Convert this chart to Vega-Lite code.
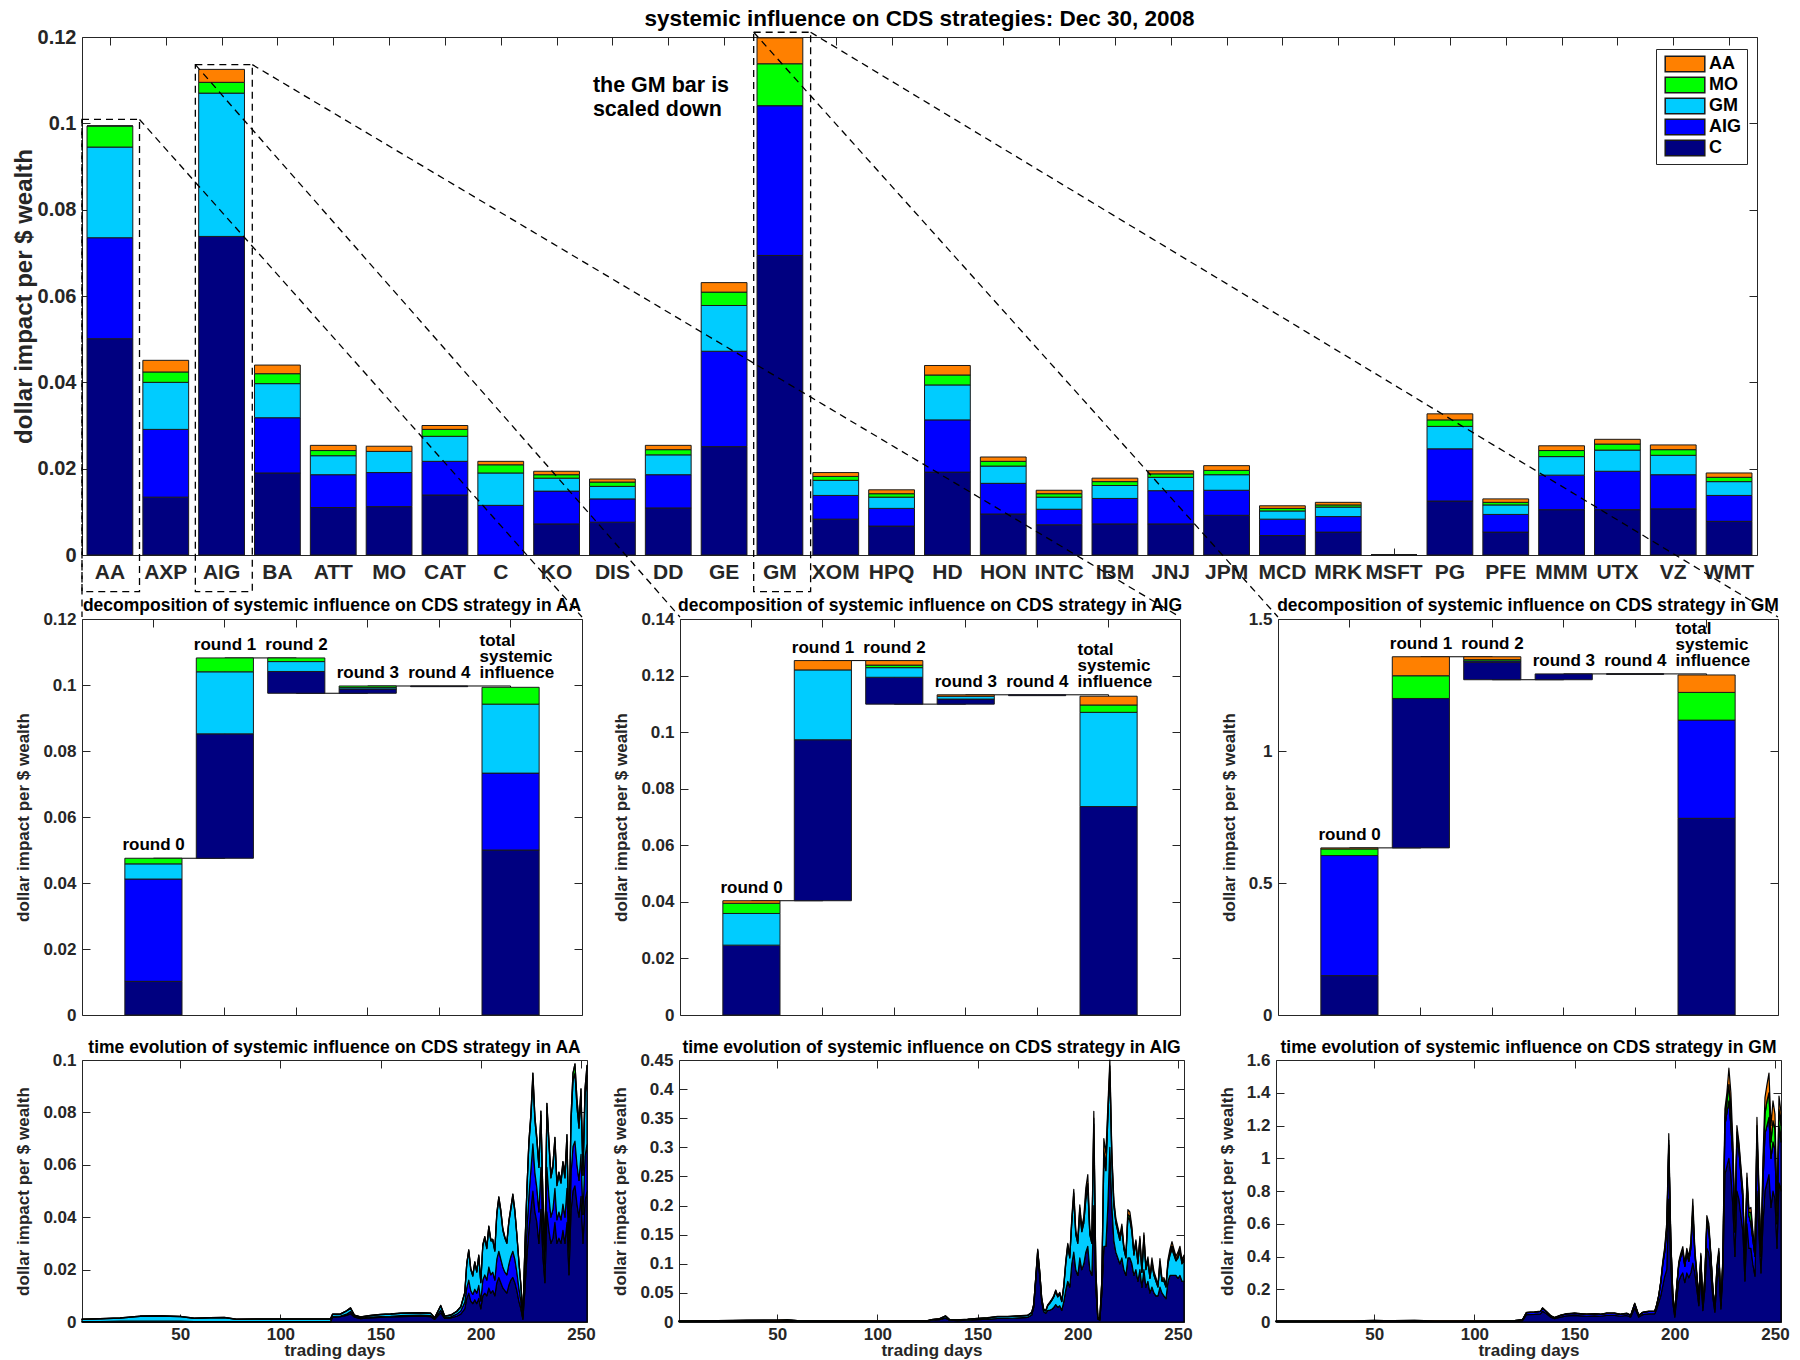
{
"$schema":"https://vega.github.io/schema/vega-lite/v6.json",
"background":"white",
"padding":{"left":11,"top":7,"right":5,"bottom":0},
"config":{
 "view":{"stroke":"#262626","strokeWidth":1},
 "font":"Liberation Sans",
 "axis":{"labelFont":"Liberation Sans","titleFont":"Liberation Sans","labelFontWeight":"bold","titleFontWeight":"bold","labelColor":"#262626","titleColor":"#262626","grid":false,"domain":false,"tickColor":"#262626","labelFontSize":17,"titleFontSize":17},
 "title":{"font":"Liberation Sans","fontWeight":"bold","color":"black","anchor":"middle"},
 "text":{"font":"Liberation Sans"}
},
"datasets":{
 "series":[{"s":"C","k":1},{"s":"AIG","k":2},{"s":"GM","k":3},{"s":"MO","k":4},{"s":"AA","k":5}],
 "bars":[
  {"t":"AA","C":0.0501,"AIG":0.0234,"GM":0.021,"MO":0.0049,"AA":0},
  {"t":"AXP","C":0.0134,"AIG":0.0157,"GM":0.0109,"MO":0.0024,"AA":0.0027},
  {"t":"AIG","C":0.0738,"AIG":0,"GM":0.0332,"MO":0.0025,"AA":0.003},
  {"t":"BA","C":0.019,"AIG":0.0128,"GM":0.0079,"MO":0.0023,"AA":0.002},
  {"t":"ATT","C":0.011,"AIG":0.0076,"GM":0.0044,"MO":0.0012,"AA":0.0012},
  {"t":"MO","C":0.0112,"AIG":0.0079,"GM":0.0049,"MO":0,"AA":0.0012},
  {"t":"CAT","C":0.0139,"AIG":0.0078,"GM":0.0058,"MO":0.0016,"AA":0.0009},
  {"t":"C","C":0,"AIG":0.0115,"GM":0.0075,"MO":0.0019,"AA":0.0008},
  {"t":"KO","C":0.0072,"AIG":0.0076,"GM":0.003,"MO":0.0008,"AA":0.0008},
  {"t":"DIS","C":0.0076,"AIG":0.0054,"GM":0.0029,"MO":0.001,"AA":0.0007},
  {"t":"DD","C":0.0109,"AIG":0.0077,"GM":0.0046,"MO":0.0012,"AA":0.001},
  {"t":"GE","C":0.0251,"AIG":0.0221,"GM":0.0106,"MO":0.0031,"AA":0.0022},
  {"t":"GM","C":0.0694,"AIG":0.0347,"GM":0,"MO":0.0097,"AA":0.006},
  {"t":"XOM","C":0.0083,"AIG":0.0055,"GM":0.0035,"MO":0.0009,"AA":0.0009},
  {"t":"HPQ","C":0.0067,"AIG":0.0041,"GM":0.0026,"MO":0.0008,"AA":0.0009},
  {"t":"HD","C":0.0192,"AIG":0.0121,"GM":0.0081,"MO":0.0023,"AA":0.0022},
  {"t":"HON","C":0.0095,"AIG":0.0071,"GM":0.004,"MO":0.0011,"AA":0.001},
  {"t":"INTC","C":0.007,"AIG":0.0036,"GM":0.0028,"MO":0.0008,"AA":0.0008},
  {"t":"IBM","C":0.0072,"AIG":0.0059,"GM":0.003,"MO":0.0009,"AA":0.0008},
  {"t":"JNJ","C":0.0072,"AIG":0.0077,"GM":0.0031,"MO":0.0008,"AA":0.0007},
  {"t":"JPM","C":0.0092,"AIG":0.0058,"GM":0.0036,"MO":0.001,"AA":0.0011},
  {"t":"MCD","C":0.0045,"AIG":0.0038,"GM":0.0019,"MO":0.0006,"AA":0.0006},
  {"t":"MRK","C":0.0053,"AIG":0.0036,"GM":0.0022,"MO":0.0005,"AA":0.0006},
  {"t":"MSFT","C":0,"AIG":0,"GM":0,"MO":0,"AA":0},
  {"t":"PG","C":0.0125,"AIG":0.0121,"GM":0.0052,"MO":0.0015,"AA":0.0014},
  {"t":"PFE","C":0.0053,"AIG":0.0041,"GM":0.0022,"MO":0.0006,"AA":0.0008},
  {"t":"MMM","C":0.0105,"AIG":0.008,"GM":0.0043,"MO":0.0014,"AA":0.0011},
  {"t":"UTX","C":0.0105,"AIG":0.0089,"GM":0.0049,"MO":0.0014,"AA":0.0011},
  {"t":"VZ","C":0.0107,"AIG":0.0079,"GM":0.0045,"MO":0.0013,"AA":0.0011},
  {"t":"WMT","C":0.0078,"AIG":0.006,"GM":0.0032,"MO":0.001,"AA":0.001}
 ],
 "zoomlines":[
  {"x1":0.5,"y1":0.1009,"x2":0.5,"y2":-0.01436},
  {"x1":1.53,"y1":0.1009,"x2":9.455,"y2":-0.01436},
  {"x1":2.53,"y1":0.1136,"x2":11.21,"y2":-0.01436},
  {"x1":3.55,"y1":0.1136,"x2":20.166,"y2":-0.01436},
  {"x1":12.53,"y1":0.1211,"x2":21.92,"y2":-0.01436},
  {"x1":13.55,"y1":0.1211,"x2":30.876,"y2":-0.01436}
 ],
 "boxes":[
  {"x1":0.5,"x2":1.53,"y1":-0.0085,"y2":0.1009},
  {"x1":2.53,"x2":3.55,"y1":-0.0085,"y2":0.1136},
  {"x1":12.53,"x2":13.55,"y1":-0.0085,"y2":0.1211}
 ],
 "notes":[
  {"x":9.65,"y":0.1087,"txt":"the GM bar is"},
  {"x":9.65,"y":0.1032,"txt":"scaled down"}
 ],
 "wf":[
  {"p":"AA","r":"round 0","s":"C","lo":0,"hi":0.0102},
  {"p":"AA","r":"round 0","s":"AIG","lo":0.0102,"hi":0.0412},
  {"p":"AA","r":"round 0","s":"GM","lo":0.0412,"hi":0.0458},
  {"p":"AA","r":"round 0","s":"MO","lo":0.0458,"hi":0.0475},
  {"p":"AA","r":"round 1","s":"C","lo":0.0475,"hi":0.0852},
  {"p":"AA","r":"round 1","s":"GM","lo":0.0852,"hi":0.104},
  {"p":"AA","r":"round 1","s":"MO","lo":0.104,"hi":0.1082},
  {"p":"AA","r":"round 2","s":"C","lo":0.0975,"hi":0.1041},
  {"p":"AA","r":"round 2","s":"GM","lo":0.1041,"hi":0.1071},
  {"p":"AA","r":"round 2","s":"MO","lo":0.1071,"hi":0.1082},
  {"p":"AA","r":"round 3","s":"C","lo":0.0975,"hi":0.0988},
  {"p":"AA","r":"round 3","s":"GM","lo":0.0988,"hi":0.0992},
  {"p":"AA","r":"round 3","s":"MO","lo":0.0992,"hi":0.0997},
  {"p":"AA","r":"round 4","s":"C","lo":0.0995,"hi":0.0997},
  {"p":"AA","r":"total","s":"C","lo":0,"hi":0.05},
  {"p":"AA","r":"total","s":"AIG","lo":0.05,"hi":0.0733},
  {"p":"AA","r":"total","s":"GM","lo":0.0733,"hi":0.0942},
  {"p":"AA","r":"total","s":"MO","lo":0.0942,"hi":0.0993},
  {"p":"AIG","r":"round 0","s":"C","lo":0,"hi":0.0247},
  {"p":"AIG","r":"round 0","s":"GM","lo":0.0247,"hi":0.0359},
  {"p":"AIG","r":"round 0","s":"MO","lo":0.0359,"hi":0.0395},
  {"p":"AIG","r":"round 0","s":"AA","lo":0.0395,"hi":0.0404},
  {"p":"AIG","r":"round 1","s":"C","lo":0.0404,"hi":0.0973},
  {"p":"AIG","r":"round 1","s":"GM","lo":0.0973,"hi":0.122},
  {"p":"AIG","r":"round 1","s":"AA","lo":0.122,"hi":0.1253},
  {"p":"AIG","r":"round 2","s":"C","lo":0.1099,"hi":0.1194},
  {"p":"AIG","r":"round 2","s":"GM","lo":0.1194,"hi":0.1228},
  {"p":"AIG","r":"round 2","s":"MO","lo":0.1228,"hi":0.1237},
  {"p":"AIG","r":"round 2","s":"AA","lo":0.1237,"hi":0.1253},
  {"p":"AIG","r":"round 3","s":"C","lo":0.1099,"hi":0.1117},
  {"p":"AIG","r":"round 3","s":"GM","lo":0.1117,"hi":0.1127},
  {"p":"AIG","r":"round 3","s":"AA","lo":0.1127,"hi":0.1132},
  {"p":"AIG","r":"round 4","s":"C","lo":0.1129,"hi":0.1132},
  {"p":"AIG","r":"total","s":"C","lo":0,"hi":0.0737},
  {"p":"AIG","r":"total","s":"GM","lo":0.0737,"hi":0.107},
  {"p":"AIG","r":"total","s":"MO","lo":0.107,"hi":0.1096},
  {"p":"AIG","r":"total","s":"AA","lo":0.1096,"hi":0.1127},
  {"p":"GM","r":"round 0","s":"C","lo":0,"hi":0.149},
  {"p":"GM","r":"round 0","s":"AIG","lo":0.149,"hi":0.604},
  {"p":"GM","r":"round 0","s":"MO","lo":0.604,"hi":0.629},
  {"p":"GM","r":"round 0","s":"AA","lo":0.629,"hi":0.633},
  {"p":"GM","r":"round 1","s":"C","lo":0.633,"hi":1.199},
  {"p":"GM","r":"round 1","s":"MO","lo":1.199,"hi":1.285},
  {"p":"GM","r":"round 1","s":"AA","lo":1.285,"hi":1.357},
  {"p":"GM","r":"round 2","s":"C","lo":1.27,"hi":1.336},
  {"p":"GM","r":"round 2","s":"AIG","lo":1.336,"hi":1.341},
  {"p":"GM","r":"round 2","s":"MO","lo":1.341,"hi":1.346},
  {"p":"GM","r":"round 2","s":"AA","lo":1.346,"hi":1.357},
  {"p":"GM","r":"round 3","s":"C","lo":1.27,"hi":1.292},
  {"p":"GM","r":"round 4","s":"C","lo":1.29,"hi":1.293},
  {"p":"GM","r":"total","s":"C","lo":0,"hi":0.745},
  {"p":"GM","r":"total","s":"AIG","lo":0.745,"hi":1.117},
  {"p":"GM","r":"total","s":"MO","lo":1.117,"hi":1.222},
  {"p":"GM","r":"total","s":"AA","lo":1.222,"hi":1.288}
 ],
 "conn":[
  {"p":"AA","r":"round 0","lvl":0.0475},{"p":"AA","r":"round 1","lvl":0.1082},{"p":"AA","r":"round 2","lvl":0.0975},{"p":"AA","r":"round 3","lvl":0.0997},{"p":"AA","r":"round 4","lvl":0.0997},{"p":"AA","r":"total","lvl":0.0993},
  {"p":"AIG","r":"round 0","lvl":0.0404},{"p":"AIG","r":"round 1","lvl":0.1253},{"p":"AIG","r":"round 2","lvl":0.1099},{"p":"AIG","r":"round 3","lvl":0.1132},{"p":"AIG","r":"round 4","lvl":0.1132},{"p":"AIG","r":"total","lvl":0.1127},
  {"p":"GM","r":"round 0","lvl":0.633},{"p":"GM","r":"round 1","lvl":1.357},{"p":"GM","r":"round 2","lvl":1.27},{"p":"GM","r":"round 3","lvl":1.292},{"p":"GM","r":"round 4","lvl":1.292},{"p":"GM","r":"total","lvl":1.288}
 ],
 "labs":[
  {"p":"AA","r":"round 0","lab":"round 0","top":0.0475},{"p":"AA","r":"round 1","lab":"round 1","top":0.1082},{"p":"AA","r":"round 2","lab":"round 2","top":0.1082},{"p":"AA","r":"round 3","lab":"round 3","top":0.0997},{"p":"AA","r":"round 4","lab":"round 4","top":0.0997},{"p":"AA","r":"total","lab":"total\nsystemic\ninfluence","top":0.0993},
  {"p":"AIG","r":"round 0","lab":"round 0","top":0.0404},{"p":"AIG","r":"round 1","lab":"round 1","top":0.1253},{"p":"AIG","r":"round 2","lab":"round 2","top":0.1253},{"p":"AIG","r":"round 3","lab":"round 3","top":0.1132},{"p":"AIG","r":"round 4","lab":"round 4","top":0.1132},{"p":"AIG","r":"total","lab":"total\nsystemic\ninfluence","top":0.1127},
  {"p":"GM","r":"round 0","lab":"round 0","top":0.633},{"p":"GM","r":"round 1","lab":"round 1","top":1.357},{"p":"GM","r":"round 2","lab":"round 2","top":1.357},{"p":"GM","r":"round 3","lab":"round 3","top":1.292},{"p":"GM","r":"round 4","lab":"round 4","top":1.292},{"p":"GM","r":"total","lab":"total\nsystemic\ninfluence","top":1.288}
 ],
 "tsAA":[
  {"d":1,"C":0,"AIG":0.0002,"GM":0.0008,"MO":0.0001,"AA":0},
  {"d":10,"C":0,"AIG":0.0002,"GM":0.001,"MO":0.0001,"AA":0},
  {"d":20,"C":0,"AIG":0.0003,"GM":0.0012,"MO":0.0001,"AA":0},
  {"d":30,"C":0,"AIG":0.0003,"GM":0.0018,"MO":0.0002,"AA":0},
  {"d":40,"C":0,"AIG":0.0003,"GM":0.0019,"MO":0.0002,"AA":0},
  {"d":50,"C":0,"AIG":0.0003,"GM":0.0017,"MO":0.0002,"AA":0},
  {"d":57,"C":0,"AIG":0.0002,"GM":0.0012,"MO":0.0001,"AA":0},
  {"d":65,"C":0,"AIG":0.0002,"GM":0.0014,"MO":0.0001,"AA":0},
  {"d":72,"C":0,"AIG":0.0002,"GM":0.0015,"MO":0.0001,"AA":0},
  {"d":78,"C":0,"AIG":0.0002,"GM":0.0008,"MO":0.0001,"AA":0},
  {"d":90,"C":0,"AIG":0.0002,"GM":0.0009,"MO":0.0001,"AA":0},
  {"d":110,"C":0,"AIG":0.0002,"GM":0.0009,"MO":0.0001,"AA":0},
  {"d":125,"C":0,"AIG":0.0002,"GM":0.0009,"MO":0.0001,"AA":0},
  {"d":126,"C":0.0018,"AIG":0.0003,"GM":0.0008,"MO":0.0001,"AA":0},
  {"d":130,"C":0.002,"AIG":0.0003,"GM":0.0007,"MO":0.0001,"AA":0},
  {"d":133,"C":0.0025,"AIG":0.0005,"GM":0.0012,"MO":0.0001,"AA":0},
  {"d":135,"C":0.0032,"AIG":0.0008,"GM":0.0012,"MO":0.0002,"AA":0},
  {"d":137,"C":0.0018,"AIG":0.0003,"GM":0.0004,"MO":0.0001,"AA":0},
  {"d":140,"C":0.0013,"AIG":0.0002,"GM":0.0004,"MO":0.0001,"AA":0},
  {"d":145,"C":0.0016,"AIG":0.0003,"GM":0.0005,"MO":0.0001,"AA":0},
  {"d":150,"C":0.0018,"AIG":0.0003,"GM":0.0007,"MO":0.0001,"AA":0},
  {"d":155,"C":0.0019,"AIG":0.0003,"GM":0.0008,"MO":0.0001,"AA":0},
  {"d":160,"C":0.002,"AIG":0.0004,"GM":0.0009,"MO":0.0001,"AA":0},
  {"d":165,"C":0.0021,"AIG":0.0004,"GM":0.0009,"MO":0.0001,"AA":0},
  {"d":170,"C":0.0022,"AIG":0.0004,"GM":0.0009,"MO":0.0001,"AA":0},
  {"d":175,"C":0.002,"AIG":0.0004,"GM":0.0009,"MO":0.0001,"AA":0},
  {"d":177,"C":0.001,"AIG":0.0002,"GM":0.0004,"MO":0.0001,"AA":0},
  {"d":180,"C":0.0035,"AIG":0.001,"GM":0.0016,"MO":0.0002,"AA":0},
  {"d":182,"C":0.0014,"AIG":0.0003,"GM":0.0005,"MO":0.0001,"AA":0},
  {"d":185,"C":0.0016,"AIG":0.0004,"GM":0.0006,"MO":0.0001,"AA":0},
  {"d":188,"C":0.0022,"AIG":0.0008,"GM":0.001,"MO":0.0001,"AA":0},
  {"d":190,"C":0.003,"AIG":0.0012,"GM":0.0015,"MO":0.0002,"AA":0},
  {"d":192,"C":0.005,"AIG":0.0025,"GM":0.0035,"MO":0.0003,"AA":0},
  {"d":193,"C":0.009,"AIG":0.004,"GM":0.009,"MO":0.0005,"AA":0},
  {"d":194,"C":0.011,"AIG":0.005,"GM":0.011,"MO":0.0005,"AA":0},
  {"d":195,"C":0.008,"AIG":0.004,"GM":0.008,"MO":0.0004,"AA":0},
  {"d":196,"C":0.007,"AIG":0.0035,"GM":0.007,"MO":0.0004,"AA":0},
  {"d":197,"C":0.0085,"AIG":0.004,"GM":0.01,"MO":0.0005,"AA":0},
  {"d":198,"C":0.007,"AIG":0.004,"GM":0.008,"MO":0.0004,"AA":0},
  {"d":199,"C":0.009,"AIG":0.005,"GM":0.011,"MO":0.0005,"AA":0},
  {"d":200,"C":0.005,"AIG":0.003,"GM":0.007,"MO":0.0004,"AA":0},
  {"d":201,"C":0.01,"AIG":0.006,"GM":0.013,"MO":0.0005,"AA":0},
  {"d":202,"C":0.011,"AIG":0.007,"GM":0.014,"MO":0.0006,"AA":0},
  {"d":203,"C":0.01,"AIG":0.006,"GM":0.012,"MO":0.0005,"AA":0},
  {"d":204,"C":0.013,"AIG":0.008,"GM":0.015,"MO":0.0006,"AA":0},
  {"d":205,"C":0.011,"AIG":0.007,"GM":0.013,"MO":0.0005,"AA":0},
  {"d":206,"C":0.012,"AIG":0.007,"GM":0.012,"MO":0.0005,"AA":0},
  {"d":207,"C":0.01,"AIG":0.006,"GM":0.011,"MO":0.0005,"AA":0},
  {"d":208,"C":0.015,"AIG":0.009,"GM":0.017,"MO":0.0007,"AA":0},
  {"d":209,"C":0.017,"AIG":0.01,"GM":0.02,"MO":0.0008,"AA":0},
  {"d":210,"C":0.015,"AIG":0.009,"GM":0.018,"MO":0.0007,"AA":0},
  {"d":211,"C":0.013,"AIG":0.008,"GM":0.014,"MO":0.0006,"AA":0},
  {"d":212,"C":0.012,"AIG":0.007,"GM":0.013,"MO":0.0005,"AA":0},
  {"d":213,"C":0.011,"AIG":0.007,"GM":0.012,"MO":0.0005,"AA":0},
  {"d":214,"C":0.014,"AIG":0.008,"GM":0.016,"MO":0.0006,"AA":0},
  {"d":215,"C":0.016,"AIG":0.009,"GM":0.018,"MO":0.0007,"AA":0},
  {"d":216,"C":0.017,"AIG":0.01,"GM":0.021,"MO":0.0008,"AA":0},
  {"d":217,"C":0.015,"AIG":0.009,"GM":0.018,"MO":0.0007,"AA":0},
  {"d":218,"C":0.012,"AIG":0.007,"GM":0.014,"MO":0.0005,"AA":0},
  {"d":219,"C":0.008,"AIG":0.005,"GM":0.01,"MO":0.0004,"AA":0},
  {"d":220,"C":0.005,"AIG":0.003,"GM":0.006,"MO":0.0003,"AA":0},
  {"d":221,"C":0.001,"AIG":0.0005,"GM":0.0008,"MO":0.0001,"AA":0},
  {"d":222,"C":0.012,"AIG":0.006,"GM":0.01,"MO":0.0005,"AA":0},
  {"d":223,"C":0.025,"AIG":0.01,"GM":0.015,"MO":0.0008,"AA":0},
  {"d":224,"C":0.035,"AIG":0.013,"GM":0.02,"MO":0.001,"AA":0},
  {"d":225,"C":0.043,"AIG":0.015,"GM":0.02,"MO":0.0015,"AA":0},
  {"d":226,"C":0.05,"AIG":0.018,"GM":0.025,"MO":0.002,"AA":0},
  {"d":227,"C":0.042,"AIG":0.015,"GM":0.02,"MO":0.0015,"AA":0},
  {"d":228,"C":0.038,"AIG":0.013,"GM":0.018,"MO":0.0012,"AA":0},
  {"d":229,"C":0.03,"AIG":0.012,"GM":0.017,"MO":0.001,"AA":0},
  {"d":230,"C":0.043,"AIG":0.016,"GM":0.02,"MO":0.0015,"AA":0},
  {"d":231,"C":0.025,"AIG":0.01,"GM":0.012,"MO":0.0008,"AA":0},
  {"d":232,"C":0.015,"AIG":0.005,"GM":0.007,"MO":0.0005,"AA":0},
  {"d":233,"C":0.042,"AIG":0.017,"GM":0.023,"MO":0.0015,"AA":0},
  {"d":234,"C":0.035,"AIG":0.013,"GM":0.02,"MO":0.0012,"AA":0},
  {"d":235,"C":0.03,"AIG":0.01,"GM":0.015,"MO":0.001,"AA":0},
  {"d":236,"C":0.032,"AIG":0.011,"GM":0.016,"MO":0.0012,"AA":0},
  {"d":237,"C":0.038,"AIG":0.013,"GM":0.018,"MO":0.0015,"AA":0},
  {"d":238,"C":0.03,"AIG":0.009,"GM":0.013,"MO":0.001,"AA":0},
  {"d":239,"C":0.032,"AIG":0.01,"GM":0.014,"MO":0.0012,"AA":0},
  {"d":240,"C":0.03,"AIG":0.009,"GM":0.014,"MO":0.001,"AA":0},
  {"d":241,"C":0.035,"AIG":0.01,"GM":0.015,"MO":0.0012,"AA":0},
  {"d":242,"C":0.03,"AIG":0.01,"GM":0.015,"MO":0.002,"AA":0},
  {"d":243,"C":0.038,"AIG":0.013,"GM":0.018,"MO":0.0025,"AA":0},
  {"d":244,"C":0.018,"AIG":0.006,"GM":0.008,"MO":0.001,"AA":0},
  {"d":245,"C":0.042,"AIG":0.014,"GM":0.02,"MO":0.002,"AA":0},
  {"d":246,"C":0.05,"AIG":0.017,"GM":0.025,"MO":0.003,"AA":0},
  {"d":247,"C":0.052,"AIG":0.017,"GM":0.026,"MO":0.0035,"AA":0},
  {"d":248,"C":0.045,"AIG":0.015,"GM":0.022,"MO":0.003,"AA":0},
  {"d":249,"C":0.04,"AIG":0.014,"GM":0.02,"MO":0.0025,"AA":0},
  {"d":250,"C":0.048,"AIG":0.016,"GM":0.022,"MO":0.003,"AA":0},
  {"d":251,"C":0.03,"AIG":0.011,"GM":0.015,"MO":0.002,"AA":0},
  {"d":252,"C":0.046,"AIG":0.017,"GM":0.023,"MO":0.003,"AA":0},
  {"d":253,"C":0.05,"AIG":0.018,"GM":0.026,"MO":0.004,"AA":0}
 ],
 "tsAIG":[
  {"d":1,"C":0.001,"AIG":0,"GM":0.0005,"MO":0.0002,"AA":0.0001},
  {"d":20,"C":0.0015,"AIG":0,"GM":0.0006,"MO":0.0002,"AA":0.0001},
  {"d":35,"C":0.002,"AIG":0,"GM":0.0008,"MO":0.0002,"AA":0.0001},
  {"d":50,"C":0.002,"AIG":0,"GM":0.001,"MO":0.0002,"AA":0.0001},
  {"d":55,"C":0.002,"AIG":0,"GM":0.0015,"MO":0.0002,"AA":0.0001},
  {"d":60,"C":0.0015,"AIG":0,"GM":0.0008,"MO":0.0002,"AA":0.0001},
  {"d":75,"C":0.0012,"AIG":0,"GM":0.0005,"MO":0.0001,"AA":0.0001},
  {"d":100,"C":0.0012,"AIG":0,"GM":0.0006,"MO":0.0001,"AA":0.0001},
  {"d":120,"C":0.0015,"AIG":0,"GM":0.0006,"MO":0.0001,"AA":0.0001},
  {"d":125,"C":0.0016,"AIG":0,"GM":0.0006,"MO":0.0001,"AA":0.0001},
  {"d":127,"C":0.003,"AIG":0,"GM":0.001,"MO":0.0002,"AA":0.0001},
  {"d":131,"C":0.004,"AIG":0,"GM":0.0015,"MO":0.0002,"AA":0.0001},
  {"d":134,"C":0.007,"AIG":0,"GM":0.003,"MO":0.0005,"AA":0.0002},
  {"d":136,"C":0.003,"AIG":0,"GM":0.001,"MO":0.0002,"AA":0.0001},
  {"d":140,"C":0.0025,"AIG":0,"GM":0.001,"MO":0.0002,"AA":0.0001},
  {"d":145,"C":0.003,"AIG":0,"GM":0.0015,"MO":0.0002,"AA":0.0001},
  {"d":150,"C":0.004,"AIG":0,"GM":0.002,"MO":0.0003,"AA":0.0001},
  {"d":155,"C":0.005,"AIG":0,"GM":0.002,"MO":0.0003,"AA":0.0001},
  {"d":160,"C":0.006,"AIG":0,"GM":0.003,"MO":0.0004,"AA":0.0002},
  {"d":165,"C":0.006,"AIG":0,"GM":0.003,"MO":0.0004,"AA":0.0002},
  {"d":170,"C":0.007,"AIG":0,"GM":0.003,"MO":0.0005,"AA":0.0002},
  {"d":175,"C":0.008,"AIG":0,"GM":0.003,"MO":0.0005,"AA":0.0002},
  {"d":177,"C":0.012,"AIG":0,"GM":0.004,"MO":0.0005,"AA":0.0002},
  {"d":178,"C":0.025,"AIG":0,"GM":0.004,"MO":0.001,"AA":0.0005},
  {"d":179,"C":0.07,"AIG":0,"GM":0.005,"MO":0.001,"AA":0.0005},
  {"d":180,"C":0.115,"AIG":0,"GM":0.007,"MO":0.002,"AA":0.001},
  {"d":181,"C":0.08,"AIG":0,"GM":0.006,"MO":0.001,"AA":0.001},
  {"d":182,"C":0.035,"AIG":0,"GM":0.005,"MO":0.001,"AA":0.0005},
  {"d":183,"C":0.018,"AIG":0,"GM":0.003,"MO":0.0005,"AA":0.0005},
  {"d":184,"C":0.015,"AIG":0,"GM":0.004,"MO":0.0005,"AA":0.0005},
  {"d":185,"C":0.02,"AIG":0,"GM":0.008,"MO":0.001,"AA":0.0005},
  {"d":186,"C":0.02,"AIG":0,"GM":0.012,"MO":0.001,"AA":0.001},
  {"d":187,"C":0.022,"AIG":0,"GM":0.015,"MO":0.001,"AA":0.001},
  {"d":188,"C":0.025,"AIG":0,"GM":0.018,"MO":0.001,"AA":0.001},
  {"d":189,"C":0.03,"AIG":0,"GM":0.022,"MO":0.002,"AA":0.001},
  {"d":190,"C":0.025,"AIG":0,"GM":0.018,"MO":0.001,"AA":0.001},
  {"d":191,"C":0.028,"AIG":0,"GM":0.02,"MO":0.002,"AA":0.001},
  {"d":192,"C":0.02,"AIG":0,"GM":0.015,"MO":0.001,"AA":0.001},
  {"d":193,"C":0.035,"AIG":0,"GM":0.025,"MO":0.002,"AA":0.001},
  {"d":194,"C":0.055,"AIG":0,"GM":0.045,"MO":0.003,"AA":0.002},
  {"d":195,"C":0.07,"AIG":0,"GM":0.06,"MO":0.003,"AA":0.002},
  {"d":196,"C":0.06,"AIG":0,"GM":0.05,"MO":0.003,"AA":0.002},
  {"d":197,"C":0.1,"AIG":0,"GM":0.07,"MO":0.005,"AA":0.004},
  {"d":198,"C":0.12,"AIG":0,"GM":0.095,"MO":0.007,"AA":0.006},
  {"d":199,"C":0.09,"AIG":0,"GM":0.06,"MO":0.004,"AA":0.003},
  {"d":200,"C":0.08,"AIG":0,"GM":0.055,"MO":0.004,"AA":0.003},
  {"d":201,"C":0.11,"AIG":0,"GM":0.08,"MO":0.006,"AA":0.005},
  {"d":202,"C":0.09,"AIG":0,"GM":0.065,"MO":0.005,"AA":0.004},
  {"d":203,"C":0.1,"AIG":0,"GM":0.07,"MO":0.006,"AA":0.005},
  {"d":204,"C":0.12,"AIG":0,"GM":0.09,"MO":0.008,"AA":0.012},
  {"d":205,"C":0.13,"AIG":0,"GM":0.1,"MO":0.008,"AA":0.015},
  {"d":206,"C":0.09,"AIG":0,"GM":0.06,"MO":0.005,"AA":0.005},
  {"d":207,"C":0.08,"AIG":0,"GM":0.055,"MO":0.004,"AA":0.004},
  {"d":208,"C":0.2,"AIG":0,"GM":0.14,"MO":0.01,"AA":0.012},
  {"d":209,"C":0.06,"AIG":0,"GM":0.03,"MO":0.003,"AA":0.002},
  {"d":210,"C":0.005,"AIG":0,"GM":0.002,"MO":0.0005,"AA":0.0005},
  {"d":211,"C":0.003,"AIG":0,"GM":0.002,"MO":0.0005,"AA":0.0005},
  {"d":212,"C":0.05,"AIG":0,"GM":0.02,"MO":0.002,"AA":0.002},
  {"d":213,"C":0.13,"AIG":0,"GM":0.15,"MO":0.015,"AA":0.02},
  {"d":214,"C":0.13,"AIG":0,"GM":0.13,"MO":0.01,"AA":0.02},
  {"d":215,"C":0.2,"AIG":0,"GM":0.15,"MO":0.01,"AA":0.01},
  {"d":216,"C":0.3,"AIG":0,"GM":0.13,"MO":0.01,"AA":0.01},
  {"d":217,"C":0.2,"AIG":0,"GM":0.08,"MO":0.006,"AA":0.006},
  {"d":218,"C":0.14,"AIG":0,"GM":0.06,"MO":0.005,"AA":0.005},
  {"d":219,"C":0.12,"AIG":0,"GM":0.05,"MO":0.004,"AA":0.004},
  {"d":220,"C":0.11,"AIG":0,"GM":0.045,"MO":0.004,"AA":0.004},
  {"d":221,"C":0.1,"AIG":0,"GM":0.04,"MO":0.004,"AA":0.004},
  {"d":222,"C":0.11,"AIG":0,"GM":0.05,"MO":0.004,"AA":0.004},
  {"d":223,"C":0.09,"AIG":0,"GM":0.035,"MO":0.003,"AA":0.003},
  {"d":224,"C":0.08,"AIG":0,"GM":0.03,"MO":0.003,"AA":0.003},
  {"d":225,"C":0.11,"AIG":0,"GM":0.07,"MO":0.005,"AA":0.008},
  {"d":226,"C":0.11,"AIG":0,"GM":0.065,"MO":0.006,"AA":0.008},
  {"d":227,"C":0.1,"AIG":0,"GM":0.055,"MO":0.004,"AA":0.005},
  {"d":228,"C":0.08,"AIG":0,"GM":0.035,"MO":0.003,"AA":0.003},
  {"d":229,"C":0.09,"AIG":0,"GM":0.045,"MO":0.003,"AA":0.003},
  {"d":230,"C":0.07,"AIG":0,"GM":0.03,"MO":0.003,"AA":0.003},
  {"d":231,"C":0.09,"AIG":0,"GM":0.05,"MO":0.003,"AA":0.004},
  {"d":232,"C":0.06,"AIG":0,"GM":0.025,"MO":0.002,"AA":0.003},
  {"d":233,"C":0.09,"AIG":0,"GM":0.055,"MO":0.004,"AA":0.004},
  {"d":234,"C":0.06,"AIG":0,"GM":0.03,"MO":0.003,"AA":0.003},
  {"d":235,"C":0.07,"AIG":0,"GM":0.035,"MO":0.003,"AA":0.004},
  {"d":236,"C":0.05,"AIG":0,"GM":0.025,"MO":0.002,"AA":0.003},
  {"d":237,"C":0.06,"AIG":0,"GM":0.04,"MO":0.004,"AA":0.006},
  {"d":238,"C":0.05,"AIG":0,"GM":0.03,"MO":0.003,"AA":0.004},
  {"d":239,"C":0.045,"AIG":0,"GM":0.025,"MO":0.003,"AA":0.003},
  {"d":240,"C":0.045,"AIG":0,"GM":0.015,"MO":0.002,"AA":0.002},
  {"d":241,"C":0.06,"AIG":0,"GM":0.04,"MO":0.004,"AA":0.005},
  {"d":242,"C":0.05,"AIG":0,"GM":0.02,"MO":0.002,"AA":0.003},
  {"d":243,"C":0.045,"AIG":0,"GM":0.025,"MO":0.003,"AA":0.003},
  {"d":244,"C":0.04,"AIG":0,"GM":0.02,"MO":0.002,"AA":0.002},
  {"d":245,"C":0.07,"AIG":0,"GM":0.03,"MO":0.003,"AA":0.004},
  {"d":246,"C":0.08,"AIG":0,"GM":0.035,"MO":0.004,"AA":0.006},
  {"d":247,"C":0.08,"AIG":0,"GM":0.045,"MO":0.005,"AA":0.008},
  {"d":248,"C":0.08,"AIG":0,"GM":0.035,"MO":0.004,"AA":0.006},
  {"d":249,"C":0.08,"AIG":0,"GM":0.025,"MO":0.003,"AA":0.005},
  {"d":250,"C":0.075,"AIG":0,"GM":0.035,"MO":0.004,"AA":0.006},
  {"d":251,"C":0.08,"AIG":0,"GM":0.04,"MO":0.004,"AA":0.006},
  {"d":252,"C":0.07,"AIG":0,"GM":0.03,"MO":0.003,"AA":0.004},
  {"d":253,"C":0.07,"AIG":0,"GM":0.035,"MO":0.004,"AA":0.006}
 ],
 "tsGM":[
  {"d":1,"C":0.003,"AIG":0.002,"GM":0,"MO":0.0005,"AA":0.0005},
  {"d":20,"C":0.003,"AIG":0.002,"GM":0,"MO":0.0005,"AA":0.0005},
  {"d":40,"C":0.004,"AIG":0.002,"GM":0,"MO":0.0005,"AA":0.0005},
  {"d":50,"C":0.006,"AIG":0.003,"GM":0,"MO":0.0005,"AA":0.0005},
  {"d":55,"C":0.005,"AIG":0.003,"GM":0,"MO":0.0005,"AA":0.0005},
  {"d":60,"C":0.005,"AIG":0.003,"GM":0,"MO":0.0005,"AA":0.0005},
  {"d":70,"C":0.006,"AIG":0.003,"GM":0,"MO":0.0005,"AA":0.0005},
  {"d":80,"C":0.004,"AIG":0.002,"GM":0,"MO":0.0005,"AA":0.0005},
  {"d":100,"C":0.004,"AIG":0.002,"GM":0,"MO":0.0005,"AA":0.0005},
  {"d":120,"C":0.005,"AIG":0.003,"GM":0,"MO":0.0005,"AA":0.0005},
  {"d":124,"C":0.008,"AIG":0.005,"GM":0,"MO":0.0005,"AA":0.0005},
  {"d":126,"C":0.045,"AIG":0.012,"GM":0,"MO":0.001,"AA":0.001},
  {"d":130,"C":0.047,"AIG":0.013,"GM":0,"MO":0.001,"AA":0.001},
  {"d":133,"C":0.05,"AIG":0.014,"GM":0,"MO":0.001,"AA":0.001},
  {"d":134,"C":0.065,"AIG":0.018,"GM":0,"MO":0.002,"AA":0.002},
  {"d":136,"C":0.05,"AIG":0.012,"GM":0,"MO":0.001,"AA":0.001},
  {"d":138,"C":0.03,"AIG":0.008,"GM":0,"MO":0.001,"AA":0.001},
  {"d":140,"C":0.02,"AIG":0.006,"GM":0,"MO":0.001,"AA":0.001},
  {"d":143,"C":0.03,"AIG":0.01,"GM":0,"MO":0.001,"AA":0.001},
  {"d":146,"C":0.037,"AIG":0.012,"GM":0,"MO":0.001,"AA":0.001},
  {"d":150,"C":0.04,"AIG":0.013,"GM":0,"MO":0.001,"AA":0.001},
  {"d":153,"C":0.038,"AIG":0.012,"GM":0,"MO":0.001,"AA":0.001},
  {"d":156,"C":0.035,"AIG":0.012,"GM":0,"MO":0.001,"AA":0.001},
  {"d":160,"C":0.038,"AIG":0.012,"GM":0,"MO":0.001,"AA":0.001},
  {"d":163,"C":0.035,"AIG":0.011,"GM":0,"MO":0.001,"AA":0.001},
  {"d":166,"C":0.04,"AIG":0.013,"GM":0,"MO":0.001,"AA":0.001},
  {"d":170,"C":0.04,"AIG":0.013,"GM":0,"MO":0.001,"AA":0.001},
  {"d":173,"C":0.035,"AIG":0.011,"GM":0,"MO":0.001,"AA":0.001},
  {"d":176,"C":0.04,"AIG":0.012,"GM":0,"MO":0.001,"AA":0.001},
  {"d":178,"C":0.03,"AIG":0.01,"GM":0,"MO":0.001,"AA":0.001},
  {"d":180,"C":0.085,"AIG":0.025,"GM":0,"MO":0.003,"AA":0.002},
  {"d":182,"C":0.03,"AIG":0.01,"GM":0,"MO":0.001,"AA":0.001},
  {"d":184,"C":0.045,"AIG":0.013,"GM":0,"MO":0.001,"AA":0.001},
  {"d":187,"C":0.05,"AIG":0.014,"GM":0,"MO":0.001,"AA":0.001},
  {"d":190,"C":0.05,"AIG":0.015,"GM":0,"MO":0.001,"AA":0.001},
  {"d":191,"C":0.08,"AIG":0.025,"GM":0,"MO":0.002,"AA":0.002},
  {"d":192,"C":0.12,"AIG":0.04,"GM":0,"MO":0.003,"AA":0.002},
  {"d":193,"C":0.16,"AIG":0.08,"GM":0,"MO":0.005,"AA":0.005},
  {"d":194,"C":0.22,"AIG":0.13,"GM":0,"MO":0.01,"AA":0.01},
  {"d":195,"C":0.28,"AIG":0.15,"GM":0,"MO":0.015,"AA":0.015},
  {"d":196,"C":0.32,"AIG":0.25,"GM":0,"MO":0.02,"AA":0.02},
  {"d":197,"C":0.75,"AIG":0.33,"GM":0,"MO":0.03,"AA":0.04},
  {"d":198,"C":0.35,"AIG":0.15,"GM":0,"MO":0.01,"AA":0.01},
  {"d":199,"C":0.12,"AIG":0.05,"GM":0,"MO":0.005,"AA":0.005},
  {"d":200,"C":0.03,"AIG":0.015,"GM":0,"MO":0.002,"AA":0.003},
  {"d":201,"C":0.15,"AIG":0.07,"GM":0,"MO":0.005,"AA":0.005},
  {"d":202,"C":0.25,"AIG":0.1,"GM":0,"MO":0.008,"AA":0.012},
  {"d":203,"C":0.28,"AIG":0.12,"GM":0,"MO":0.01,"AA":0.01},
  {"d":204,"C":0.3,"AIG":0.13,"GM":0,"MO":0.01,"AA":0.02},
  {"d":205,"C":0.24,"AIG":0.1,"GM":0,"MO":0.008,"AA":0.012},
  {"d":206,"C":0.3,"AIG":0.12,"GM":0,"MO":0.01,"AA":0.02},
  {"d":207,"C":0.27,"AIG":0.1,"GM":0,"MO":0.01,"AA":0.02},
  {"d":208,"C":0.3,"AIG":0.15,"GM":0,"MO":0.02,"AA":0.02},
  {"d":209,"C":0.36,"AIG":0.32,"GM":0,"MO":0.03,"AA":0.04},
  {"d":210,"C":0.3,"AIG":0.12,"GM":0,"MO":0.01,"AA":0.02},
  {"d":211,"C":0.2,"AIG":0.08,"GM":0,"MO":0.01,"AA":0.01},
  {"d":212,"C":0.1,"AIG":0.04,"GM":0,"MO":0.005,"AA":0.005},
  {"d":213,"C":0.3,"AIG":0.1,"GM":0,"MO":0.01,"AA":0.01},
  {"d":214,"C":0.07,"AIG":0.02,"GM":0,"MO":0.003,"AA":0.003},
  {"d":215,"C":0.2,"AIG":0.07,"GM":0,"MO":0.008,"AA":0.01},
  {"d":216,"C":0.45,"AIG":0.15,"GM":0,"MO":0.02,"AA":0.03},
  {"d":217,"C":0.42,"AIG":0.14,"GM":0,"MO":0.02,"AA":0.02},
  {"d":218,"C":0.3,"AIG":0.1,"GM":0,"MO":0.01,"AA":0.01},
  {"d":219,"C":0.15,"AIG":0.05,"GM":0,"MO":0.005,"AA":0.005},
  {"d":220,"C":0.06,"AIG":0.02,"GM":0,"MO":0.002,"AA":0.003},
  {"d":221,"C":0.25,"AIG":0.07,"GM":0,"MO":0.01,"AA":0.01},
  {"d":222,"C":0.33,"AIG":0.09,"GM":0,"MO":0.01,"AA":0.02},
  {"d":223,"C":0.08,"AIG":0.02,"GM":0,"MO":0.003,"AA":0.003},
  {"d":224,"C":0.3,"AIG":0.07,"GM":0,"MO":0.01,"AA":0.02},
  {"d":225,"C":0.9,"AIG":0.3,"GM":0,"MO":0.05,"AA":0.05},
  {"d":226,"C":0.95,"AIG":0.33,"GM":0,"MO":0.06,"AA":0.06},
  {"d":227,"C":1,"AIG":0.35,"GM":0,"MO":0.1,"AA":0.1},
  {"d":228,"C":0.9,"AIG":0.3,"GM":0,"MO":0.08,"AA":0.12},
  {"d":229,"C":0.7,"AIG":0.3,"GM":0,"MO":0.05,"AA":0.05},
  {"d":230,"C":0.4,"AIG":0.15,"GM":0,"MO":0.02,"AA":0.03},
  {"d":231,"C":0.8,"AIG":0.32,"GM":0,"MO":0.04,"AA":0.04},
  {"d":232,"C":0.75,"AIG":0.3,"GM":0,"MO":0.03,"AA":0.02},
  {"d":233,"C":0.65,"AIG":0.25,"GM":0,"MO":0.03,"AA":0.02},
  {"d":234,"C":0.55,"AIG":0.2,"GM":0,"MO":0.03,"AA":0.02},
  {"d":235,"C":0.25,"AIG":0.1,"GM":0,"MO":0.01,"AA":0.01},
  {"d":236,"C":0.6,"AIG":0.25,"GM":0,"MO":0.03,"AA":0.03},
  {"d":237,"C":0.45,"AIG":0.2,"GM":0,"MO":0.02,"AA":0.02},
  {"d":238,"C":0.45,"AIG":0.15,"GM":0,"MO":0.07,"AA":0.03},
  {"d":239,"C":0.35,"AIG":0.15,"GM":0,"MO":0.03,"AA":0.02},
  {"d":240,"C":0.28,"AIG":0.12,"GM":0,"MO":0.02,"AA":0.02},
  {"d":241,"C":0.8,"AIG":0.35,"GM":0,"MO":0.05,"AA":0.05},
  {"d":242,"C":0.55,"AIG":0.2,"GM":0,"MO":0.04,"AA":0.04},
  {"d":243,"C":0.3,"AIG":0.1,"GM":0,"MO":0.01,"AA":0.01},
  {"d":244,"C":0.6,"AIG":0.25,"GM":0,"MO":0.08,"AA":0.07},
  {"d":245,"C":0.8,"AIG":0.35,"GM":0,"MO":0.12,"AA":0.1},
  {"d":246,"C":0.85,"AIG":0.35,"GM":0,"MO":0.15,"AA":0.1},
  {"d":247,"C":0.9,"AIG":0.35,"GM":0,"MO":0.15,"AA":0.12},
  {"d":248,"C":0.7,"AIG":0.3,"GM":0,"MO":0.1,"AA":0.1},
  {"d":249,"C":0.8,"AIG":0.3,"GM":0,"MO":0.13,"AA":0.12},
  {"d":250,"C":0.75,"AIG":0.3,"GM":0,"MO":0.12,"AA":0.1},
  {"d":251,"C":0.45,"AIG":0.15,"GM":0,"MO":0.05,"AA":0.05},
  {"d":252,"C":0.85,"AIG":0.35,"GM":0,"MO":0.1,"AA":0.08},
  {"d":253,"C":0.8,"AIG":0.3,"GM":0,"MO":0.1,"AA":0.08}
 ]
},
"spacing":-33.8,
"vconcat":[
 {
  "width":1675,"height":518,
  "title":{"text":"systemic influence on CDS strategies: Dec 30, 2008","fontSize":22.5,"offset":-3},
  "layer":[
   {
    "data":{"name":"bars"},
    "transform":[{"fold":["C","AIG","GM","MO","AA"],"as":["s","v"]},{"lookup":"s","from":{"data":{"name":"series"},"key":"s","fields":["k"]}}],
    "mark":{"type":"bar","stroke":"#1a1a1a","strokeWidth":1},
    "encoding":{
     "x":{"field":"t","type":"nominal","sort":null,"title":null,"scale":{"paddingInner":0.18,"paddingOuter":0.09},"axis":{"orient":"bottom","labelAngle":0,"labelFontSize":21,"labelColor":"#262626","tickSize":-7,"labelPadding":13}},
     "y":{"field":"v","type":"quantitative","stack":"zero","title":"dollar impact per $ wealth","scale":{"domain":[0,0.12],"nice":false},"axis":{"values":[0,0.02,0.04,0.06,0.08,0.1,0.12],"format":".2~f","labelFontSize":20,"titleFontSize":24,"tickSize":-8,"labelPadding":14,"titlePadding":1}},
     "color":{"field":"s","type":"nominal","scale":{"domain":["AA","MO","GM","AIG","C"],"range":["#FF8000","#00FF00","#00CCFF","#0000FF","#000080"]},"legend":{"title":null,"orient":"none","legendX":1574,"legendY":12,"symbolType":"M-2.2,-0.85H2.2V0.85H-2.2Z","symbolSize":324,"symbolOffset":14,"symbolStrokeColor":"#1a1a1a","symbolStrokeWidth":1.5,"symbolOpacity":1,"labelFontSize":18,"labelFontWeight":"bold","labelColor":"black","labelOffset":14,"fillColor":"white","strokeColor":"#262626","padding":5,"rowPadding":-3}},
     "order":{"field":"k","type":"quantitative"}
    }
   },
   {
    "data":{"name":"zoomlines"},
    "mark":{"type":"rule","strokeDash":[7,5],"color":"black","strokeWidth":1.3},
    "encoding":{
     "x":{"field":"x1","type":"quantitative","scale":{"domain":[0.5,30.5],"nice":false,"zero":false},"axis":{"orient":"top","values":[1,2,3,4,5,6,7,8,9,10,11,12,13,14,15,16,17,18,19,20,21,22,23,24,25,26,27,28,29,30],"labels":false,"tickSize":-8,"title":null}},
     "x2":{"field":"x2"},
     "y":{"field":"y1","type":"quantitative","scale":{"domain":[0,0.12],"nice":false},"axis":{"orient":"right","values":[0,0.02,0.04,0.06,0.08,0.1,0.12],"labels":false,"tickSize":-8,"title":null}},
     "y2":{"field":"y2"}
    }
   },
   {
    "data":{"name":"boxes"},
    "mark":{"type":"rect","filled":false,"color":"black","strokeDash":[7,5],"strokeWidth":1.3},
    "encoding":{
     "x":{"field":"x1","type":"quantitative","scale":{"domain":[0.5,30.5],"nice":false,"zero":false},"axis":null},
     "x2":{"field":"x2"},
     "y":{"field":"y1","type":"quantitative","scale":{"domain":[0,0.12],"nice":false},"axis":null},
     "y2":{"field":"y2"}
    }
   },
   {
    "data":{"name":"notes"},
    "mark":{"type":"text","align":"left","baseline":"middle","fontSize":21.5,"fontWeight":"bold","color":"black"},
    "encoding":{
     "x":{"field":"x","type":"quantitative","scale":{"domain":[0.5,30.5],"nice":false,"zero":false},"axis":null},
     "y":{"field":"y","type":"quantitative","scale":{"domain":[0,0.12],"nice":false},"axis":null},
     "text":{"field":"txt"}
    }
   }
  ],
  "resolve":{"scale":{"x":"independent"},"axis":{"x":"independent","y":"independent"}}
 },
 {
  "spacing":14,
  "vconcat":[
   {
    "spacing":98,"bounds":"flush",
    "hconcat":[
     {
      "width":500,"height":396,
      "title":{"text":"decomposition of systemic influence on CDS strategy in AA","fontSize":17.5,"offset":-4},
      "layer":[
       {"data":{"name":"conn"},"transform":[{"filter":"datum.p === 'AA'"}],"mark":{"type":"line","interpolate":"step-after","color":"black","strokeWidth":1},
        "encoding":{"x":{"field":"r","type":"nominal","sort":null,"title":null,"scale":{"domain":["round 0","round 1","round 2","round 3","round 4","total"],"paddingInner":0.2,"paddingOuter":0.6},"axis":{"orient":"top","labels":false,"tickSize":-8}},
         "y":{"field":"lvl","type":"quantitative","title":null,"scale":{"domain":[0,0.12],"nice":false},"axis":{"orient":"right","labels":false,"tickSize":-8,"values":[0,0.02,0.04,0.06,0.08,0.1,0.12]}}}},
       {"data":{"name":"wf"},"transform":[{"filter":"datum.p === 'AA'"}],"mark":{"type":"bar","stroke":"#1a1a1a","strokeWidth":1},
        "encoding":{"x":{"field":"r","type":"nominal","sort":null,"title":null,"scale":{"domain":["round 0","round 1","round 2","round 3","round 4","total"],"paddingInner":0.2,"paddingOuter":0.6},"axis":{"orient":"bottom","labels":false,"tickSize":-8}},
         "y":{"field":"lo","type":"quantitative","title":"dollar impact per $ wealth","scale":{"domain":[0,0.12],"nice":false},"axis":{"values":[0,0.02,0.04,0.06,0.08,0.1,0.12],"format":".2~f","tickSize":-8,"labelPadding":14,"titlePadding":10}},
         "y2":{"field":"hi"},
         "color":{"field":"s","type":"nominal","scale":{"domain":["AA","MO","GM","AIG","C"],"range":["#FF8000","#00FF00","#00CCFF","#0000FF","#000080"]},"legend":null}}},
       {"data":{"name":"labs"},"transform":[{"filter":"datum.p === 'AA' && datum.r !== 'total'"}],"mark":{"type":"text","align":"left","baseline":"bottom","dx":-31,"dy":-4,"fontSize":17,"fontWeight":"bold","color":"black"},
        "encoding":{"x":{"field":"r","type":"nominal","sort":null,"scale":{"domain":["round 0","round 1","round 2","round 3","round 4","total"],"paddingInner":0.2,"paddingOuter":0.6},"axis":null},"y":{"field":"top","type":"quantitative","scale":{"domain":[0,0.12],"nice":false},"axis":null},"text":{"field":"lab"}}},
       {"data":{"name":"labs"},"transform":[{"filter":"datum.p === 'AA' && datum.r === 'total'"}],"mark":{"type":"text","align":"left","baseline":"bottom","dx":-31,"dy":-37,"fontSize":17,"fontWeight":"bold","color":"black","lineBreak":"\n","lineHeight":16},
        "encoding":{"x":{"field":"r","type":"nominal","sort":null,"scale":{"domain":["round 0","round 1","round 2","round 3","round 4","total"],"paddingInner":0.2,"paddingOuter":0.6},"axis":null},"y":{"field":"top","type":"quantitative","scale":{"domain":[0,0.12],"nice":false},"axis":null},"text":{"field":"lab"}}}
      ],
      "resolve":{"axis":{"x":"independent","y":"independent"}}
     },
     {
      "width":500,"height":396,
      "title":{"text":"decomposition of systemic influence on CDS strategy in AIG","fontSize":17.5,"offset":-4},
      "layer":[
       {"data":{"name":"conn"},"transform":[{"filter":"datum.p === 'AIG'"}],"mark":{"type":"line","interpolate":"step-after","color":"black","strokeWidth":1},
        "encoding":{"x":{"field":"r","type":"nominal","sort":null,"title":null,"scale":{"domain":["round 0","round 1","round 2","round 3","round 4","total"],"paddingInner":0.2,"paddingOuter":0.6},"axis":{"orient":"top","labels":false,"tickSize":-8}},
         "y":{"field":"lvl","type":"quantitative","title":null,"scale":{"domain":[0,0.14],"nice":false},"axis":{"orient":"right","labels":false,"tickSize":-8,"values":[0,0.02,0.04,0.06,0.08,0.1,0.12,0.14]}}}},
       {"data":{"name":"wf"},"transform":[{"filter":"datum.p === 'AIG'"}],"mark":{"type":"bar","stroke":"#1a1a1a","strokeWidth":1},
        "encoding":{"x":{"field":"r","type":"nominal","sort":null,"title":null,"scale":{"domain":["round 0","round 1","round 2","round 3","round 4","total"],"paddingInner":0.2,"paddingOuter":0.6},"axis":{"orient":"bottom","labels":false,"tickSize":-8}},
         "y":{"field":"lo","type":"quantitative","title":"dollar impact per $ wealth","scale":{"domain":[0,0.14],"nice":false},"axis":{"values":[0,0.02,0.04,0.06,0.08,0.1,0.12,0.14],"format":".2~f","tickSize":-8,"labelPadding":14,"titlePadding":10}},
         "y2":{"field":"hi"},
         "color":{"field":"s","type":"nominal","scale":{"domain":["AA","MO","GM","AIG","C"],"range":["#FF8000","#00FF00","#00CCFF","#0000FF","#000080"]},"legend":null}}},
       {"data":{"name":"labs"},"transform":[{"filter":"datum.p === 'AIG' && datum.r !== 'total'"}],"mark":{"type":"text","align":"left","baseline":"bottom","dx":-31,"dy":-4,"fontSize":17,"fontWeight":"bold","color":"black"},
        "encoding":{"x":{"field":"r","type":"nominal","sort":null,"scale":{"domain":["round 0","round 1","round 2","round 3","round 4","total"],"paddingInner":0.2,"paddingOuter":0.6},"axis":null},"y":{"field":"top","type":"quantitative","scale":{"domain":[0,0.14],"nice":false},"axis":null},"text":{"field":"lab"}}},
       {"data":{"name":"labs"},"transform":[{"filter":"datum.p === 'AIG' && datum.r === 'total'"}],"mark":{"type":"text","align":"left","baseline":"bottom","dx":-31,"dy":-37,"fontSize":17,"fontWeight":"bold","color":"black","lineBreak":"\n","lineHeight":16},
        "encoding":{"x":{"field":"r","type":"nominal","sort":null,"scale":{"domain":["round 0","round 1","round 2","round 3","round 4","total"],"paddingInner":0.2,"paddingOuter":0.6},"axis":null},"y":{"field":"top","type":"quantitative","scale":{"domain":[0,0.14],"nice":false},"axis":null},"text":{"field":"lab"}}}
      ],
      "resolve":{"axis":{"x":"independent","y":"independent"}}
     },
     {
      "width":500,"height":396,
      "title":{"text":"decomposition of systemic influence on CDS strategy in GM","fontSize":17.5,"offset":-4},
      "layer":[
       {"data":{"name":"conn"},"transform":[{"filter":"datum.p === 'GM'"}],"mark":{"type":"line","interpolate":"step-after","color":"black","strokeWidth":1},
        "encoding":{"x":{"field":"r","type":"nominal","sort":null,"title":null,"scale":{"domain":["round 0","round 1","round 2","round 3","round 4","total"],"paddingInner":0.2,"paddingOuter":0.6},"axis":{"orient":"top","labels":false,"tickSize":-8}},
         "y":{"field":"lvl","type":"quantitative","title":null,"scale":{"domain":[0,1.5],"nice":false},"axis":{"orient":"right","labels":false,"tickSize":-8,"values":[0,0.5,1,1.5]}}}},
       {"data":{"name":"wf"},"transform":[{"filter":"datum.p === 'GM'"}],"mark":{"type":"bar","stroke":"#1a1a1a","strokeWidth":1},
        "encoding":{"x":{"field":"r","type":"nominal","sort":null,"title":null,"scale":{"domain":["round 0","round 1","round 2","round 3","round 4","total"],"paddingInner":0.2,"paddingOuter":0.6},"axis":{"orient":"bottom","labels":false,"tickSize":-8}},
         "y":{"field":"lo","type":"quantitative","title":"dollar impact per $ wealth","scale":{"domain":[0,1.5],"nice":false},"axis":{"values":[0,0.5,1,1.5],"format":".2~f","tickSize":-8,"labelPadding":14,"titlePadding":10}},
         "y2":{"field":"hi"},
         "color":{"field":"s","type":"nominal","scale":{"domain":["AA","MO","GM","AIG","C"],"range":["#FF8000","#00FF00","#00CCFF","#0000FF","#000080"]},"legend":null}}},
       {"data":{"name":"labs"},"transform":[{"filter":"datum.p === 'GM' && datum.r !== 'total'"}],"mark":{"type":"text","align":"left","baseline":"bottom","dx":-31,"dy":-4,"fontSize":17,"fontWeight":"bold","color":"black"},
        "encoding":{"x":{"field":"r","type":"nominal","sort":null,"scale":{"domain":["round 0","round 1","round 2","round 3","round 4","total"],"paddingInner":0.2,"paddingOuter":0.6},"axis":null},"y":{"field":"top","type":"quantitative","scale":{"domain":[0,1.5],"nice":false},"axis":null},"text":{"field":"lab"}}},
       {"data":{"name":"labs"},"transform":[{"filter":"datum.p === 'GM' && datum.r === 'total'"}],"mark":{"type":"text","align":"left","baseline":"bottom","dx":-31,"dy":-37,"fontSize":17,"fontWeight":"bold","color":"black","lineBreak":"\n","lineHeight":16},
        "encoding":{"x":{"field":"r","type":"nominal","sort":null,"scale":{"domain":["round 0","round 1","round 2","round 3","round 4","total"],"paddingInner":0.2,"paddingOuter":0.6},"axis":null},"y":{"field":"top","type":"quantitative","scale":{"domain":[0,1.5],"nice":false},"axis":null},"text":{"field":"lab"}}}
      ],
      "resolve":{"axis":{"x":"independent","y":"independent"}}
     }
    ]
   },
   {
    "spacing":92,"bounds":"flush",
    "hconcat":[
     {
      "width":505,"height":262,
      "title":{"text":"time evolution of systemic influence on CDS strategy in AA","fontSize":17.5,"offset":-5},
      "data":{"name":"tsAA"},
      "transform":[{"fold":["C","AIG","GM","MO","AA"],"as":["s","v"]},{"lookup":"s","from":{"data":{"name":"series"},"key":"s","fields":["k"]}}],
      "layer":[
       {"mark":{"type":"area","stroke":"black","strokeWidth":1.2,"strokeJoin":"round"},
        "encoding":{"x":{"field":"d","type":"quantitative","title":"trading days","scale":{"domain":[1,253],"nice":false,"zero":false},"axis":{"values":[50,100,150,200,250],"tickSize":-8,"labelPadding":12,"titlePadding":0}},
         "y":{"field":"v","type":"quantitative","stack":"zero","title":"dollar impact per $ wealth","scale":{"domain":[0,0.1],"nice":false},"axis":{"values":[0,0.02,0.04,0.06,0.08,0.1],"format":".2~f","tickSize":-8,"labelPadding":14,"titlePadding":10}},
         "color":{"field":"s","type":"nominal","scale":{"domain":["AA","MO","GM","AIG","C"],"range":["#FF8000","#00FF00","#00CCFF","#0000FF","#000080"]},"legend":null},
         "order":{"field":"k","type":"quantitative"}}},
       {"mark":{"type":"point","opacity":0},
        "encoding":{"x":{"field":"d","type":"quantitative","title":null,"scale":{"domain":[1,253],"nice":false,"zero":false},"axis":{"orient":"top","values":[50,100,150,200,250],"labels":false,"tickSize":-8}},
         "y":{"field":"v","type":"quantitative","title":null,"scale":{"domain":[0,0.1],"nice":false},"axis":{"orient":"right","values":[0,0.02,0.04,0.06,0.08,0.1],"labels":false,"tickSize":-8}}}}
      ],
      "resolve":{"axis":{"x":"independent","y":"independent"}}
     },
     {
      "width":505,"height":262,
      "title":{"text":"time evolution of systemic influence on CDS strategy in AIG","fontSize":17.5,"offset":-5},
      "data":{"name":"tsAIG"},
      "transform":[{"fold":["C","AIG","GM","MO","AA"],"as":["s","v"]},{"lookup":"s","from":{"data":{"name":"series"},"key":"s","fields":["k"]}}],
      "layer":[
       {"mark":{"type":"area","stroke":"black","strokeWidth":1.2,"strokeJoin":"round"},
        "encoding":{"x":{"field":"d","type":"quantitative","title":"trading days","scale":{"domain":[1,253],"nice":false,"zero":false},"axis":{"values":[50,100,150,200,250],"tickSize":-8,"labelPadding":12,"titlePadding":0}},
         "y":{"field":"v","type":"quantitative","stack":"zero","title":"dollar impact per $ wealth","scale":{"domain":[0,0.45],"nice":false},"axis":{"values":[0,0.05,0.1,0.15,0.2,0.25,0.3,0.35,0.4,0.45],"format":".2~f","tickSize":-8,"labelPadding":14,"titlePadding":10}},
         "color":{"field":"s","type":"nominal","scale":{"domain":["AA","MO","GM","AIG","C"],"range":["#FF8000","#00FF00","#00CCFF","#0000FF","#000080"]},"legend":null},
         "order":{"field":"k","type":"quantitative"}}},
       {"mark":{"type":"point","opacity":0},
        "encoding":{"x":{"field":"d","type":"quantitative","title":null,"scale":{"domain":[1,253],"nice":false,"zero":false},"axis":{"orient":"top","values":[50,100,150,200,250],"labels":false,"tickSize":-8}},
         "y":{"field":"v","type":"quantitative","title":null,"scale":{"domain":[0,0.45],"nice":false},"axis":{"orient":"right","values":[0,0.05,0.1,0.15,0.2,0.25,0.3,0.35,0.4,0.45],"labels":false,"tickSize":-8}}}}
      ],
      "resolve":{"axis":{"x":"independent","y":"independent"}}
     },
     {
      "width":505,"height":262,
      "title":{"text":"time evolution of systemic influence on CDS strategy in GM","fontSize":17.5,"offset":-5},
      "data":{"name":"tsGM"},
      "transform":[{"fold":["C","AIG","GM","MO","AA"],"as":["s","v"]},{"lookup":"s","from":{"data":{"name":"series"},"key":"s","fields":["k"]}}],
      "layer":[
       {"mark":{"type":"area","stroke":"black","strokeWidth":1.2,"strokeJoin":"round"},
        "encoding":{"x":{"field":"d","type":"quantitative","title":"trading days","scale":{"domain":[1,253],"nice":false,"zero":false},"axis":{"values":[50,100,150,200,250],"tickSize":-8,"labelPadding":12,"titlePadding":0}},
         "y":{"field":"v","type":"quantitative","stack":"zero","title":"dollar impact per $ wealth","scale":{"domain":[0,1.6],"nice":false},"axis":{"values":[0,0.2,0.4,0.6,0.8,1,1.2,1.4,1.6],"format":".2~f","tickSize":-8,"labelPadding":14,"titlePadding":10}},
         "color":{"field":"s","type":"nominal","scale":{"domain":["AA","MO","GM","AIG","C"],"range":["#FF8000","#00FF00","#00CCFF","#0000FF","#000080"]},"legend":null},
         "order":{"field":"k","type":"quantitative"}}},
       {"mark":{"type":"point","opacity":0},
        "encoding":{"x":{"field":"d","type":"quantitative","title":null,"scale":{"domain":[1,253],"nice":false,"zero":false},"axis":{"orient":"top","values":[50,100,150,200,250],"labels":false,"tickSize":-8}},
         "y":{"field":"v","type":"quantitative","title":null,"scale":{"domain":[0,1.6],"nice":false},"axis":{"orient":"right","values":[0,0.2,0.4,0.6,0.8,1,1.2,1.4,1.6],"labels":false,"tickSize":-8}}}}
      ],
      "resolve":{"axis":{"x":"independent","y":"independent"}}
     }
    ]
   }
  ]
 }
]
}
